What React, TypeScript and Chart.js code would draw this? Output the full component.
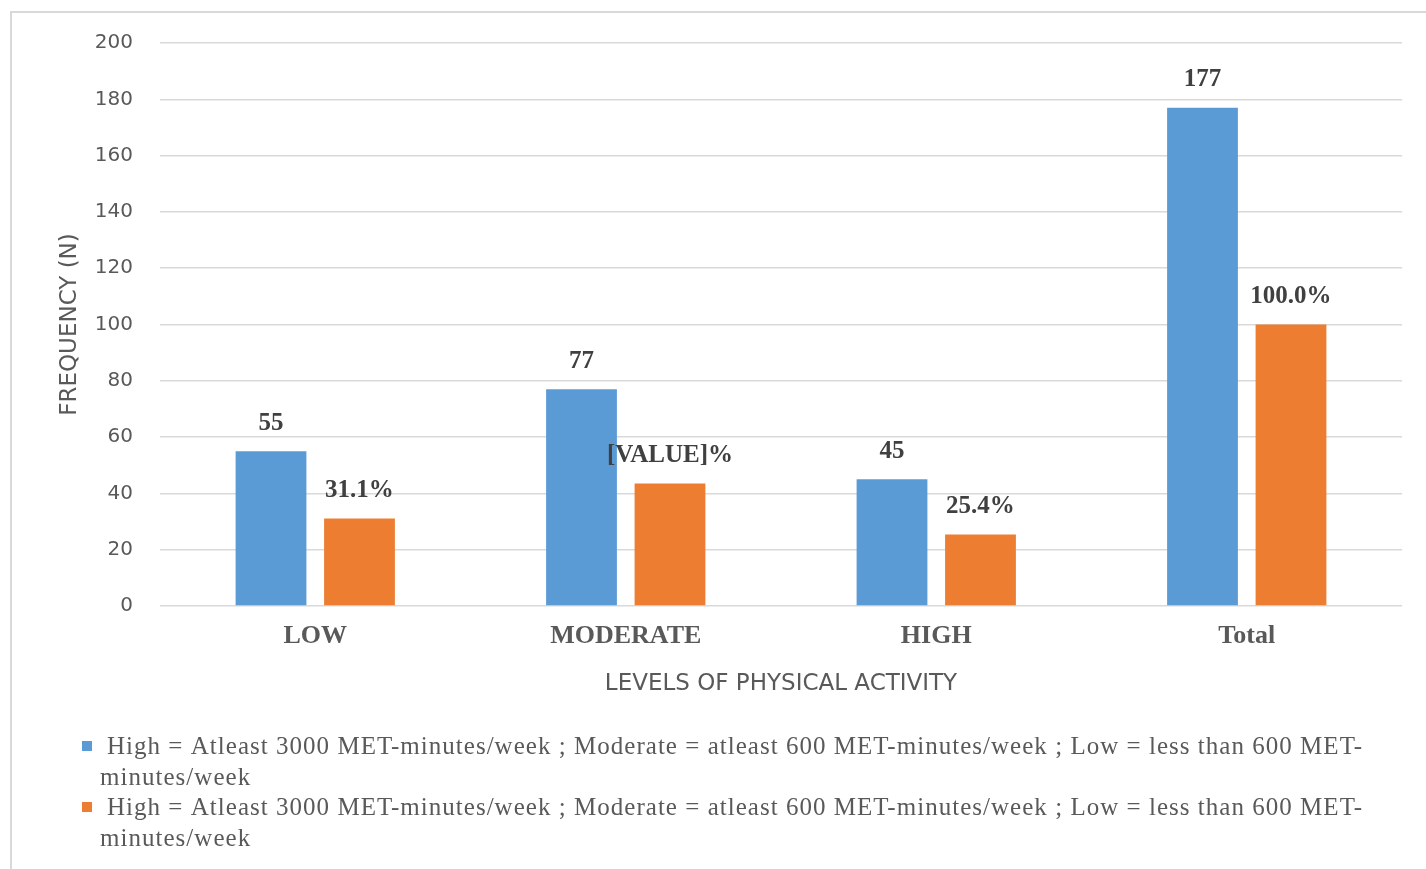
import React, { useEffect, useRef } from "react";
import { Chart, registerables } from "chart.js";

Chart.register(...registerables);

const categories = ["LOW", "MODERATE", "HIGH", "Total"];
const frequencyValues = [55, 77, 45, 177];
const percentValues = [31.1, 43.5, 25.4, 100.0];
const frequencyLabels = ["55", "77", "45", "177"];
const percentLabels = ["31.1%", "[VALUE]%", "25.4%", "100.0%"];
const yMin = 0;
const yMax = 200;
const yStep = 20;
const legendLines = [
  "High = Atleast 3000 MET-minutes/week ; Moderate = atleast 600 MET-minutes/week ; Low = less than 600 MET-",
  "minutes/week",
];
const xTitle = "LEVELS OF PHYSICAL ACTIVITY";
const yTitle = "FREQUENCY (N)";

const BLUE = "#5B9BD5";
const ORANGE = "#ED7D31";
const GRID = "#D9D9D9";
const SANS = "'DejaVu Sans', sans-serif";
const SERIF = "'Liberation Serif', 'Times New Roman', serif";

const framePlugin = {
  id: "frame",
  beforeDraw(chart: any) {
    const ctx = chart.ctx;
    ctx.save();
    ctx.fillStyle = "#ffffff";
    ctx.fillRect(0, 0, chart.width, chart.height);
    ctx.strokeStyle = "#D9D9D9";
    ctx.lineWidth = 2;
    ctx.beginPath();
    ctx.moveTo(11, chart.height);
    ctx.lineTo(11, 12);
    ctx.lineTo(chart.width, 12);
    ctx.stroke();
    ctx.restore();
  },
};

const labelsPlugin = {
  id: "barLabels",
  afterDatasetsDraw(chart: any) {
    const ctx = chart.ctx;
    const sets = [frequencyLabels, percentLabels];
    ctx.save();
    ctx.font = `bold 25px ${SERIF}`;
    ctx.fillStyle = "#404040";
    ctx.textAlign = "center";
    ctx.textBaseline = "middle";
    chart.data.datasets.forEach((_: any, i: number) => {
      const meta = chart.getDatasetMeta(i);
      meta.data.forEach((bar: any, j: number) => {
        ctx.fillText(sets[i][j], bar.x, bar.y - 28);
      });
    });
    ctx.restore();
  },
};

const legendPlugin = {
  id: "wrappedLegend",
  afterDraw(chart: any) {
    const ctx = chart.ctx;
    ctx.save();
    ctx.font = `25px ${SERIF}`;
    ctx.fillStyle = "#595959";
    ctx.textAlign = "left";
    ctx.textBaseline = "middle";
    (ctx as any).letterSpacing = "0px";
    const w = ctx.measureText(legendLines[0]).width;
    const ls = (1256 - w) / legendLines[0].length;
    (ctx as any).letterSpacing = `${ls}px`;
    const tops = [747, 808];
    chart.data.datasets.forEach((ds: any, i: number) => {
      const y = tops[i];
      ctx.fillStyle = ds.backgroundColor;
      ctx.fillRect(82, y - 6, 10, 10);
      ctx.fillStyle = "#595959";
      ctx.fillText(legendLines[0], 107, y);
      ctx.fillText(legendLines[1], 100, y + 31);
    });
    ctx.restore();
  },
};

export default function App() {
  const ref = useRef<HTMLCanvasElement | null>(null);

  useEffect(() => {
    if (!ref.current) return;
    const chart = new Chart(ref.current, {
      type: "bar",
      data: {
        labels: categories,
        datasets: [
          {
            label: legendLines.join(""),
            data: frequencyValues,
            backgroundColor: BLUE,
            categoryPercentage: 0.57,
            barPercentage: 0.8,
          },
          {
            label: legendLines.join(""),
            data: percentValues,
            backgroundColor: ORANGE,
            categoryPercentage: 0.57,
            barPercentage: 0.8,
          },
        ],
      },
      options: {
        responsive: false,
        animation: false,
        devicePixelRatio: 1,
        layout: { padding: { left: 20, top: 43, right: 24, bottom: 149 } },
        plugins: {
          legend: { display: false },
          tooltip: { enabled: false },
          title: { display: false },
        },
        scales: {
          x: {
            grid: { display: false, drawTicks: false },
            border: { display: false },
            ticks: {
              color: "#595959",
              padding: 15,
              font: { family: SERIF, size: 26, weight: "bold" },
              maxRotation: 0,
            },
            title: {
              display: true,
              text: xTitle,
              color: "#595959",
              font: { family: SANS, size: 23 },
              padding: { top: 0, bottom: 22 },
            },
            afterFit(scale: any) {
              scale.height = 114;
            },
          },
          y: {
            min: yMin,
            max: yMax,
            grid: { color: GRID, lineWidth: 1.5, drawTicks: false },
            border: { display: false },
            ticks: {
              stepSize: yStep,
              color: "#595959",
              padding: 27,
              font: { family: SANS, size: 20 },
            },
            title: {
              display: true,
              text: yTitle,
              color: "#595959",
              font: { family: SANS, size: 23 },
              padding: { top: 36, bottom: 0 },
            },
            afterFit(scale: any) {
              scale.width = 140;
            },
          },
        },
      },
      plugins: [framePlugin, labelsPlugin, legendPlugin],
    } as any);
    return () => chart.destroy();
  }, []);

  return (
    <div style={{ position: "absolute", left: 0, top: 0, width: 1426, height: 869, background: "#fff" }}>
      <canvas ref={ref} width={1426} height={869} style={{ display: "block" }} />
    </div>
  );
}
